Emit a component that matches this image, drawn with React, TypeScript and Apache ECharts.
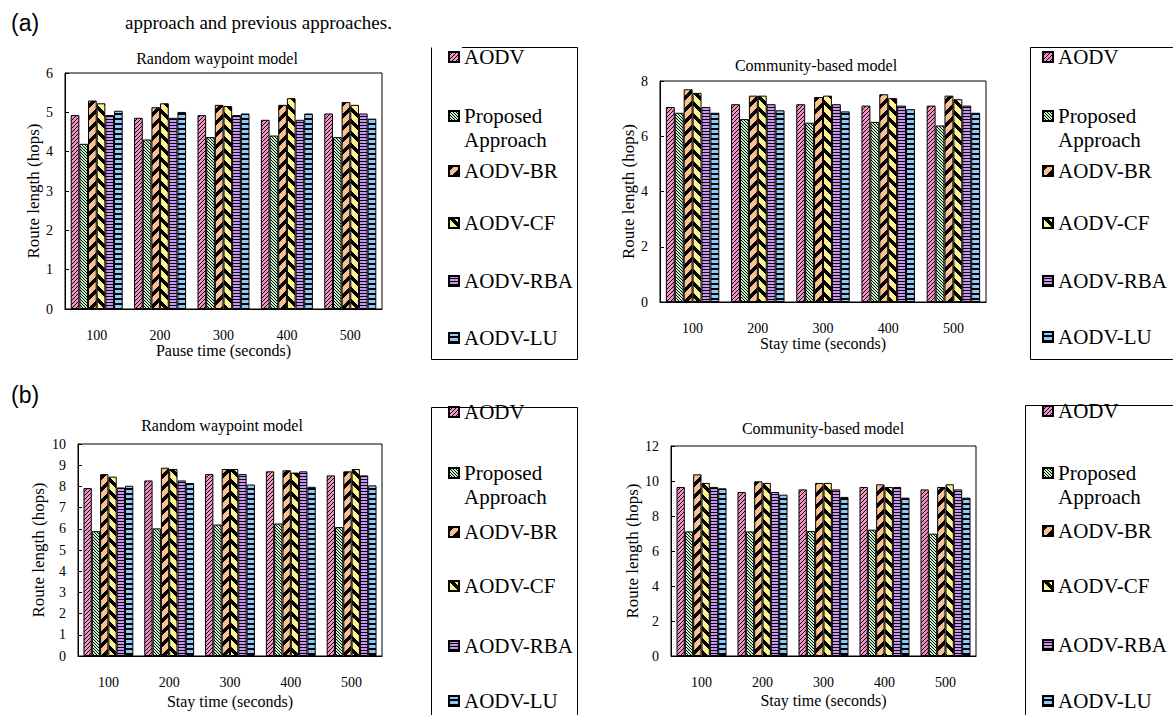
import React, { useEffect, useRef } from 'react';
import * as echarts from 'echarts';

// ---------- data ----------
const categories = ['100', '200', '300', '400', '500'];
const seriesNames = ['AODV', 'Proposed Approach', 'AODV-BR', 'AODV-CF', 'AODV-RBA', 'AODV-LU'];

// (a) Random waypoint model, pause time
const rwpPauseAODV = [4.93, 4.86, 4.93, 4.81, 4.97];
const rwpPauseProposed = [4.2, 4.31, 4.37, 4.41, 4.37];
const rwpPauseBR = [5.3, 5.13, 5.19, 5.19, 5.26];
const rwpPauseCF = [5.23, 5.23, 5.16, 5.36, 5.19];
const rwpPauseRBA = [4.93, 4.86, 4.93, 4.81, 4.97];
const rwpPauseLU = [5.04, 5.01, 4.97, 4.97, 4.84];

// (a) Community-based model, stay time
const cbmAAODV = [7.06, 7.16, 7.16, 7.11, 7.11];
const cbmAProposed = [6.85, 6.62, 6.49, 6.52, 6.39];
const cbmABR = [7.7, 7.47, 7.42, 7.52, 7.47];
const cbmACF = [7.57, 7.47, 7.47, 7.38, 7.34];
const cbmARBA = [7.06, 7.16, 7.16, 7.11, 7.11];
const cbmALU = [6.85, 6.94, 6.9, 6.98, 6.85];

// (b) Random waypoint model, stay time
const rwpStayAODV = [7.92, 8.28, 8.58, 8.71, 8.52];
const rwpStayProposed = [5.89, 6.02, 6.2, 6.25, 6.08];
const rwpStayBR = [8.58, 8.88, 8.82, 8.76, 8.71];
const rwpStayCF = [8.46, 8.82, 8.82, 8.65, 8.82];
const rwpStayRBA = [7.95, 8.28, 8.58, 8.71, 8.52];
const rwpStayLU = [8.03, 8.16, 8.09, 7.98, 8.05];

// (b) Community-based model, stay time
const cbmBAODV = [9.66, 9.37, 9.52, 9.66, 9.52];
const cbmBProposed = [7.12, 7.12, 7.14, 7.22, 6.99];
const cbmBBR = [10.38, 9.98, 9.89, 9.81, 9.66];
const cbmBCF = [9.89, 9.89, 9.89, 9.66, 9.81];
const cbmBRBA = [9.66, 9.37, 9.52, 9.66, 9.52];
const cbmBLU = [9.58, 9.22, 9.09, 9.05, 9.05];

const SERIF = '"Liberation Serif", "Times New Roman", Times, serif';
const SANS = '"Liberation Sans", Arial, Helvetica, sans-serif';

type Kind = 'fwdThin' | 'backThin' | 'fwdThick' | 'backThick' | 'hThin' | 'hThick';

function makePattern(bg: string, kind: Kind) {
  let w = 4;
  let h = 4;
  let isBlack: (x: number, y: number) => boolean = () => false;
  const mod = (a: number, n: number) => ((a % n) + n) % n;
  switch (kind) {
    case 'fwdThin':
      w = 4; h = 4; isBlack = (x, y) => mod(x + y, 4) === 3; break;
    case 'backThin':
      w = 3; h = 3; isBlack = (x, y) => mod(x - y, 3) === 0; break;
    case 'fwdThick':
      w = 12; h = 12; isBlack = (x, y) => mod(x + y, 12) < 5; break;
    case 'backThick':
      w = 12; h = 12; isBlack = (x, y) => mod(x - y, 12) < 5; break;
    case 'hThin':
      w = 4; h = 3; isBlack = (_x, y) => y === 2; break;
    case 'hThick':
      w = 4; h = 5; isBlack = (_x, y) => y >= 3; break;
  }
  const c = document.createElement('canvas');
  c.width = w;
  c.height = h;
  const ctx = c.getContext('2d')!;
  ctx.fillStyle = bg;
  ctx.fillRect(0, 0, w, h);
  ctx.fillStyle = '#000';
  for (let y = 0; y < h; y++) {
    for (let x = 0; x < w; x++) {
      if (isBlack(x, y)) ctx.fillRect(x, y, 1, 1);
    }
  }
  return { image: c.toDataURL(), repeat: 'repeat', imageWidth: w, imageHeight: h };
}

export default function App() {
  const ref = useRef<HTMLDivElement>(null);

  useEffect(() => {
    if (!ref.current) return;
    const chart = echarts.init(ref.current, undefined, { renderer: 'svg' });

    const patterns = [
      makePattern('#F290C8', 'fwdThin'),
      makePattern('#C4F2C4', 'backThin'),
      makePattern('#FAC090', 'fwdThick'),
      makePattern('#FFF290', 'backThick'),
      makePattern('#C896F0', 'hThin'),
      makePattern('#90C8FA', 'hThick'),
    ];

    const panels = [
      {
        title: 'Random waypoint model', titleX: 217, titleY: 58,
        xName: 'Pause time (seconds)', yMax: 6, yInterval: 1,
        grid: { left: 65, top: 73, width: 317, height: 236 },
        xNameGap: 28, yNameGap: 18,
        data: [rwpPauseAODV, rwpPauseProposed, rwpPauseBR, rwpPauseCF, rwpPauseRBA, rwpPauseLU],
      },
      {
        title: 'Community-based model', titleX: 816, titleY: 65,
        xName: 'Stay time (seconds)', yMax: 8, yInterval: 2,
        grid: { left: 660, top: 81, width: 326, height: 221 },
        xNameGap: 33, yNameGap: 19,
        data: [cbmAAODV, cbmAProposed, cbmABR, cbmACF, cbmARBA, cbmALU],
      },
      {
        title: 'Random waypoint model', titleX: 222, titleY: 425,
        xName: 'Stay time (seconds)', yMax: 10, yInterval: 1,
        grid: { left: 78, top: 444, width: 304, height: 212 },
        xNameGap: 37, yNameGap: 31,
        data: [rwpStayAODV, rwpStayProposed, rwpStayBR, rwpStayCF, rwpStayRBA, rwpStayLU],
      },
      {
        title: 'Community-based model', titleX: 823, titleY: 428,
        xName: 'Stay time (seconds)', yMax: 12, yInterval: 2,
        grid: { left: 671, top: 446, width: 305, height: 210 },
        xNameGap: 36, yNameGap: 30,
        data: [cbmBAODV, cbmBProposed, cbmBBR, cbmBCF, cbmBRBA, cbmBLU],
      },
    ];

    const legendLayouts = [
      { iconLeft: 448, centers: [57, 116, 171, 223, 281, 338] },
      { iconLeft: 1042, centers: [57, 116, 171, 223, 281, 337] },
      { iconLeft: 448, centers: [412, 473, 532, 586, 646, 701] },
      { iconLeft: 1042, centers: [411, 473, 531, 586, 645, 701] },
    ];

    const legends: any[] = [];
    legendLayouts.forEach((lay) => {
      seriesNames.forEach((name, i) => {
        const multi = name === 'Proposed Approach';
        legends.push({
          data: [name],
          left: lay.iconLeft,
          top: lay.centers[i] - (multi ? 36 : 12),
          orient: 'vertical',
          padding: 0,
          itemWidth: 10,
          itemHeight: 10,
          itemTextGap: 9,
          icon: 'rect',
          selectedMode: false,
          formatter: multi ? '\nProposed\nApproach' : '{name}',
          textStyle: {
            fontFamily: SERIF,
            fontSize: 21,
            color: '#000',
            lineHeight: 24,
          },
        });
      });
    });

    const axisText = { fontFamily: SERIF, color: '#000' };

    const option: any = {
      animation: false,
      backgroundColor: '#fff',
      title: panels.map((p) => ({
        text: p.title,
        left: p.titleX,
        top: p.titleY - 9,
        textAlign: 'center',
        padding: 0,
        textStyle: { fontFamily: SERIF, fontSize: 16, fontWeight: 'normal', color: '#000', lineHeight: 18 },
      })),
      legend: legends,
      grid: panels.map((p) => ({
        ...p.grid,
        show: true,
        borderColor: '#000',
        borderWidth: 1,
        containLabel: false,
      })),
      xAxis: panels.map((p, i) => ({
        type: 'category',
        gridIndex: i,
        data: categories,
        name: p.xName,
        nameLocation: 'middle',
        nameGap: p.xNameGap,
        nameTextStyle: { ...axisText, fontSize: 16 },
        axisLine: { lineStyle: { color: '#000', width: 1 } },
        axisTick: { inside: true, length: 4, lineStyle: { color: '#000' } },
        axisLabel: { ...axisText, fontSize: 14, margin: 19 },
      })),
      yAxis: panels.map((p, i) => ({
        type: 'value',
        gridIndex: i,
        min: 0,
        max: p.yMax,
        interval: p.yInterval,
        name: 'Route length (hops)',
        nameLocation: 'middle',
        nameGap: p.yNameGap,
        nameTextStyle: { ...axisText, fontSize: 17 },
        axisLine: { show: true, lineStyle: { color: '#000', width: 1 } },
        axisTick: { show: true, inside: true, length: 4, lineStyle: { color: '#000' } },
        axisLabel: { ...axisText, fontSize: 14, margin: 12 },
        splitLine: { show: false },
      })),
      series: panels.flatMap((p, gi) =>
        seriesNames.map((name, si) => ({
          type: 'bar',
          name,
          xAxisIndex: gi,
          yAxisIndex: gi,
          data: p.data[si],
          barGap: '0%',
          barCategoryGap: '18%',
          itemStyle: { color: patterns[si], borderColor: '#000', borderWidth: 1 },
          emphasis: { disabled: true },
        }))
      ),
      graphic: [
        { type: 'text', x: 11, y: 23, style: { text: '(a)', font: `23px ${SANS}`, fill: '#000', verticalAlign: 'middle' } },
        { type: 'text', x: 125, y: 22, style: { text: 'approach and previous approaches.', font: `19px ${SERIF}`, fill: '#000', verticalAlign: 'middle' } },
        { type: 'text', x: 11, y: 395, style: { text: '(b)', font: `23px ${SANS}`, fill: '#000', verticalAlign: 'middle' } },
        { type: 'polyline', shape: { points: [[462, 47.5], [577.5, 47.5], [577.5, 359.5], [431.5, 359.5], [431.5, 47.5]] }, style: { stroke: '#000', fill: null, lineWidth: 1 } },
        { type: 'polyline', shape: { points: [[1173, 47.5], [1030.5, 47.5], [1030.5, 359.5], [1173, 359.5]] }, style: { stroke: '#000', fill: null, lineWidth: 1 } },
        { type: 'polyline', shape: { points: [[431.5, 716], [431.5, 407.5], [577.5, 407.5], [577.5, 716]] }, style: { stroke: '#000', fill: null, lineWidth: 1 } },
        { type: 'polyline', shape: { points: [[1025.5, 716], [1025.5, 405.5], [1173, 405.5]] }, style: { stroke: '#000', fill: null, lineWidth: 1 } },
      ],
    };

    chart.setOption(option);
    return () => chart.dispose();
  }, []);

  return (
    <div
      ref={ref}
      style={{ position: 'fixed', left: 0, top: 0, width: 1173, height: 715, background: '#fff' }}
    />
  );
}
